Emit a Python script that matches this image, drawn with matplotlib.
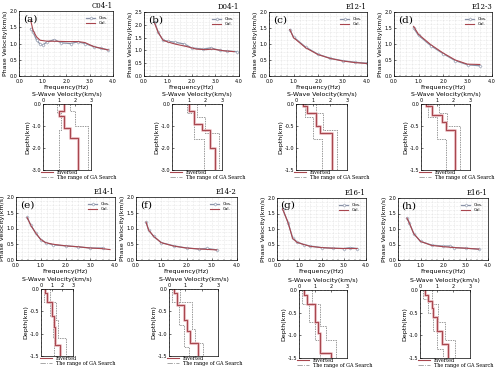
import numpy as np
import matplotlib
matplotlib.use("Agg")
import matplotlib.pyplot as plt

# ---- dispersion curves (frequency Hz, phase velocity km/s) ----
stations = ["C04-1", "D04-1", "E12-1", "E12-3", "E14-1", "E14-2", "E16-1", "E16-1"]
tags = ["(a)", "(b)", "(c)", "(d)", "(e)", "(f)", "(g)", "(h)"]

obs_f = [
    [0.5, 0.6, 0.75, 0.9, 1.0, 1.2, 1.5, 1.8, 2.2, 2.5, 2.8, 3.2, 3.5, 3.8],
    [0.45, 0.6, 0.8, 1.0, 1.3, 1.7, 2.0, 2.5, 2.8, 3.2, 3.5, 3.9],
    [0.85, 1.0, 1.5, 2.0, 2.5, 3.0, 3.5, 4.0],
    [0.8, 1.0, 1.5, 2.0, 2.5, 3.0, 3.5],
    [0.45, 0.6, 0.8, 1.0, 1.2, 1.5, 2.0, 2.5, 3.0, 3.5],
    [0.4, 0.5, 0.7, 1.0, 1.5, 2.0, 2.5, 2.8, 3.2],
    [0.25, 0.5, 0.7, 0.9, 1.2, 1.5, 2.0, 2.5, 3.0, 3.3, 3.6],
    [0.4, 0.5, 0.7, 1.0, 1.5, 2.0, 2.3, 2.5, 3.0, 3.6],
]
obs_v = [
    [1.45, 1.35, 1.1, 0.98, 0.95, 1.05, 1.12, 1.02, 1.0, 1.05, 1.0, 0.9, 0.85, 0.8],
    [2.1, 1.7, 1.4, 1.36, 1.32, 1.25, 1.1, 1.05, 1.1, 1.0, 0.98, 0.95],
    [1.45, 1.22, 0.9, 0.68, 0.55, 0.48, 0.43, 0.4],
    [1.5, 1.27, 0.95, 0.7, 0.48, 0.35, 0.32],
    [1.35, 1.1, 0.85, 0.65, 0.55, 0.48, 0.45, 0.42, 0.38, 0.38],
    [1.2, 0.95, 0.75, 0.55, 0.45, 0.38, 0.35, 0.37, 0.32],
    [1.65, 1.2, 0.72, 0.58, 0.5, 0.45, 0.4, 0.38, 0.37, 0.4, 0.37],
    [1.35, 1.2, 0.85, 0.6, 0.48, 0.45, 0.45, 0.4, 0.38, 0.35],
]
cal_f = [
    [0.5, 0.6, 0.75, 0.9, 1.2, 1.5, 2.0, 2.5, 2.8, 3.2, 3.5, 3.8],
    [0.45, 0.6, 0.8, 1.0, 1.3, 1.8, 2.2, 2.6, 2.9, 3.4, 3.8],
    [0.85, 1.0, 1.5, 2.0, 2.5, 3.0, 3.5, 4.0],
    [0.8, 1.0, 1.5, 2.0, 2.5, 3.0, 3.5],
    [0.45, 0.6, 0.8, 1.0, 1.2, 1.5, 2.0, 2.5, 3.0, 3.5, 3.8],
    [0.4, 0.5, 0.7, 1.0, 1.5, 2.0, 2.5, 3.2],
    [0.25, 0.5, 0.7, 0.9, 1.2, 1.5, 2.0, 2.5, 3.0, 3.6],
    [0.4, 0.5, 0.7, 1.0, 1.5, 2.0, 2.5, 3.0, 3.6],
]
cal_v = [
    [1.7, 1.4, 1.2, 1.1, 1.07, 1.07, 1.06, 1.06, 1.03, 0.9, 0.85, 0.8],
    [2.05, 1.7, 1.4, 1.33, 1.25, 1.15, 1.05, 1.03, 1.05, 0.98, 0.95],
    [1.45, 1.2, 0.88, 0.67, 0.55, 0.47, 0.42, 0.39],
    [1.55, 1.3, 0.98, 0.72, 0.5, 0.37, 0.36],
    [1.35, 1.1, 0.85, 0.65, 0.55, 0.5, 0.45, 0.42, 0.38, 0.36, 0.33],
    [1.2, 0.95, 0.75, 0.55, 0.44, 0.38, 0.35, 0.32],
    [1.65, 1.2, 0.7, 0.57, 0.5, 0.44, 0.4, 0.38, 0.37, 0.37],
    [1.35, 1.2, 0.85, 0.6, 0.47, 0.43, 0.4, 0.38, 0.35],
]
vmax = [2.0, 2.5, 2.0, 2.0, 2.0, 2.0, 2.0, 2.0]

# ---- S-wave profiles: layer velocities (km/s) and layer bottoms (km) ----
inv_v = [
    [1.3, 1.0, 1.3, 1.7, 2.2],
    [1.0, 1.3, 1.8, 2.3, 2.6],
    [0.4, 0.65, 1.2, 1.4, 2.1],
    [0.3, 0.7, 1.3, 1.5, 2.1],
    [0.4, 0.6, 1.0, 1.2, 1.3, 1.8],
    [0.3, 0.5, 0.9, 1.1, 1.3, 1.8],
    [0.3, 0.5, 1.0, 1.2, 1.3, 2.0],
    [0.3, 0.5, 0.7, 0.8, 1.0, 1.3, 1.7],
]
inv_z = [
    [0.3, 0.55, 1.1, 1.55, 3.0],
    [0.3, 0.9, 1.2, 2.0, 3.0],
    [0.05, 0.2, 0.5, 0.65, 1.5],
    [0.05, 0.25, 0.4, 0.6, 1.5],
    [0.1, 0.3, 0.6, 0.85, 1.25, 1.5],
    [0.1, 0.35, 0.7, 0.95, 1.2, 1.5],
    [0.1, 0.3, 0.7, 0.95, 1.4, 1.5],
    [0.1, 0.25, 0.4, 0.6, 0.9, 1.2, 1.5],
]
low_v = [
    [0.9, 1.1, 1.0],
    [0.9, 1.3, 1.9],
    [0.5, 1.0, 1.5],
    [0.4, 1.0, 1.5],
    [0.3, 0.8, 1.1, 1.2],
    [0.2, 0.6, 0.9, 1.2],
    [0.2, 0.6, 1.0, 1.3],
    [0.2, 0.5, 0.8, 1.0, 1.4],
]
low_z = [
    [0.4, 1.2, 3.0],
    [0.4, 1.6, 3.0],
    [0.3, 0.8, 1.5],
    [0.3, 0.8, 1.5],
    [0.3, 0.6, 1.1, 1.5],
    [0.3, 0.8, 1.3, 1.5],
    [0.3, 0.7, 1.1, 1.5],
    [0.2, 0.5, 0.9, 1.3, 1.5],
]
up_v = [
    [1.7, 2.0, 2.8],
    [1.5, 2.0, 2.8],
    [1.2, 1.6, 2.4],
    [1.1, 1.6, 2.4],
    [0.8, 1.4, 1.6, 2.3],
    [0.7, 1.4, 1.6, 2.1],
    [0.8, 1.3, 1.7, 2.3],
    [0.7, 1.1, 1.5, 2.1],
]
up_z = [
    [0.3, 1.0, 3.0],
    [0.6, 1.3, 3.0],
    [0.2, 0.6, 1.5],
    [0.2, 0.5, 1.5],
    [0.3, 0.7, 1.1, 1.5],
    [0.3, 0.9, 1.2, 1.5],
    [0.3, 0.8, 1.1, 1.5],
    [0.3, 0.7, 1.1, 1.5],
]
zmax = [3.0, 3.0, 1.5, 1.5, 1.5, 1.5, 1.5, 1.5]

W, H = 500, 369
disp_box = [(19, 113, 11, 76), (144, 239, 12, 76), (269, 367, 12, 76), (394, 492, 12, 76),
            (16, 115, 197, 260), (136, 237, 197, 260), (277, 366, 198, 260), (398, 488, 198, 260)]
prof_box = [(43, 91, 104, 170), (172, 222, 104, 170), (296, 347, 104, 170), (421, 470, 104, 170),
            (41, 73, 289, 356), (169, 218, 289, 356), (299, 347, 290, 358), (420, 470, 290, 358)]

red = "#a8464e"
pink = "#e8b8bc"
blue = "#8a93a8"
gray = "#9a9a9a"


def rect(b):
    x0, x1, y0, y1 = b
    return [x0 / W, 1 - y1 / H, (x1 - x0) / W, (y1 - y0) / H]


def steps(v, z):
    xs, ys = [], []
    top = 0.0
    for vi, zi in zip(v, z):
        xs += [vi, vi]
        ys += [-top, -zi]
        top = zi
    return xs, ys


plt.rcParams["font.family"] = "DejaVu Sans"
fig = plt.figure(figsize=(W / 100, H / 100), dpi=100)

for i in range(8):
    ax = fig.add_axes(rect(disp_box[i]))
    ax.plot(obs_f[i], obs_v[i], color=blue, lw=0.9, marker="D", ms=1.6,
            mfc="white", mec=blue, mew=0.4, label="Obs.")
    ax.plot(cal_f[i], cal_v[i], color=red, lw=0.8, label="Cal.")
    ax.set_xlim(0, 4)
    ax.set_ylim(0, vmax[i])
    ax.set_xticks([0, 1, 2, 3, 4])
    ax.set_xticklabels(["0.0", "1.0", "2.0", "3.0", "4.0"])
    yt = np.arange(0, vmax[i] + 0.01, 0.5)
    ax.set_yticks(yt)
    ax.set_yticklabels(["%.1f" % t for t in yt])
    ax.set_xticks(np.arange(0, 4.01, 0.25), minor=True)
    ax.set_yticks(np.arange(0, vmax[i] + 0.01, 0.125), minor=True)
    ax.grid(True, which="both", color="#d4d4d4", lw=0.4, ls=":")
    ax.tick_params(labelsize=3.5, length=1.5, width=0.4, pad=1, direction="in")
    ax.tick_params(axis="x", pad=2.5)
    ax.tick_params(axis="y", pad=1.5)
    ax.tick_params(which="minor", length=0.8, width=0.3, direction="in")
    for s in ax.spines.values():
        s.set_linewidth(0.5)
    ax.set_xlabel("Frequency(Hz)", fontsize=4.5, labelpad=0.5)
    ax.set_ylabel("Phase Velocity(km/s)", fontsize=4.5, labelpad=1)
    ax.text(0.04, 0.95, tags[i], transform=ax.transAxes, fontsize=7.5,
            family="DejaVu Serif", va="top", ha="left")
    ax.text(1.0, 1.01, stations[i], transform=ax.transAxes, fontsize=5,
            family="DejaVu Serif", va="bottom", ha="right")
    ax.legend(loc="upper right", fontsize=3, frameon=False, handlelength=2.2,
              borderaxespad=0.8, labelspacing=0.3)

    px = fig.add_axes(rect(prof_box[i]))
    lx, ly = steps(low_v[i], low_z[i])
    ux, uy = steps(up_v[i], up_z[i])
    px.plot(lx, ly, color=gray, lw=0.7, ls=(0, (1.5, 1)))
    px.plot(ux, uy, color=gray, lw=0.7, ls=(0, (1.5, 1)))
    ix, iy = steps(inv_v[i], inv_z[i])
    px.plot(ix, iy, color=pink, lw=2.2, alpha=0.8)
    px.plot(ix, iy, color=red, lw=0.8)
    px.set_xlim(0, 3)
    px.set_ylim(-zmax[i], 0)
    px.set_xticks([0, 1, 2, 3])
    if zmax[i] == 3.0:
        zt = [0, -1, -2, -3]
    else:
        zt = [0, -0.5, -1.0, -1.5]
    px.set_yticks(zt)
    px.set_yticklabels(["%.1f" % t for t in zt])
    px.xaxis.tick_top()
    px.xaxis.set_label_position("top")
    px.tick_params(labelsize=3.5, length=1.5, width=0.4, pad=1, direction="in")
    px.minorticks_on()
    px.tick_params(which="minor", length=0.8, width=0.3, direction="in")
    for s in px.spines.values():
        s.set_linewidth(0.5)
    px.set_xlabel("S-Wave Velocity(km/s)", fontsize=4.5, labelpad=1.5)
    px.set_ylabel("Depth(km)", fontsize=4.5, labelpad=1)
    h1, = px.plot([], [], color=red, lw=0.8)
    h2, = px.plot([], [], color=gray, lw=0.6, ls="-.")
    px.legend([h1, h2], ["Inverted", "The range of GA Search"], loc="upper left",
              bbox_to_anchor=(-0.05, 0.01), frameon=False,
              handlelength=2.5, labelspacing=0.0, borderaxespad=0.0, borderpad=0.1,
              prop={"family": "DejaVu Serif", "size": 3.5})

fig.savefig("out.png", dpi=100)
